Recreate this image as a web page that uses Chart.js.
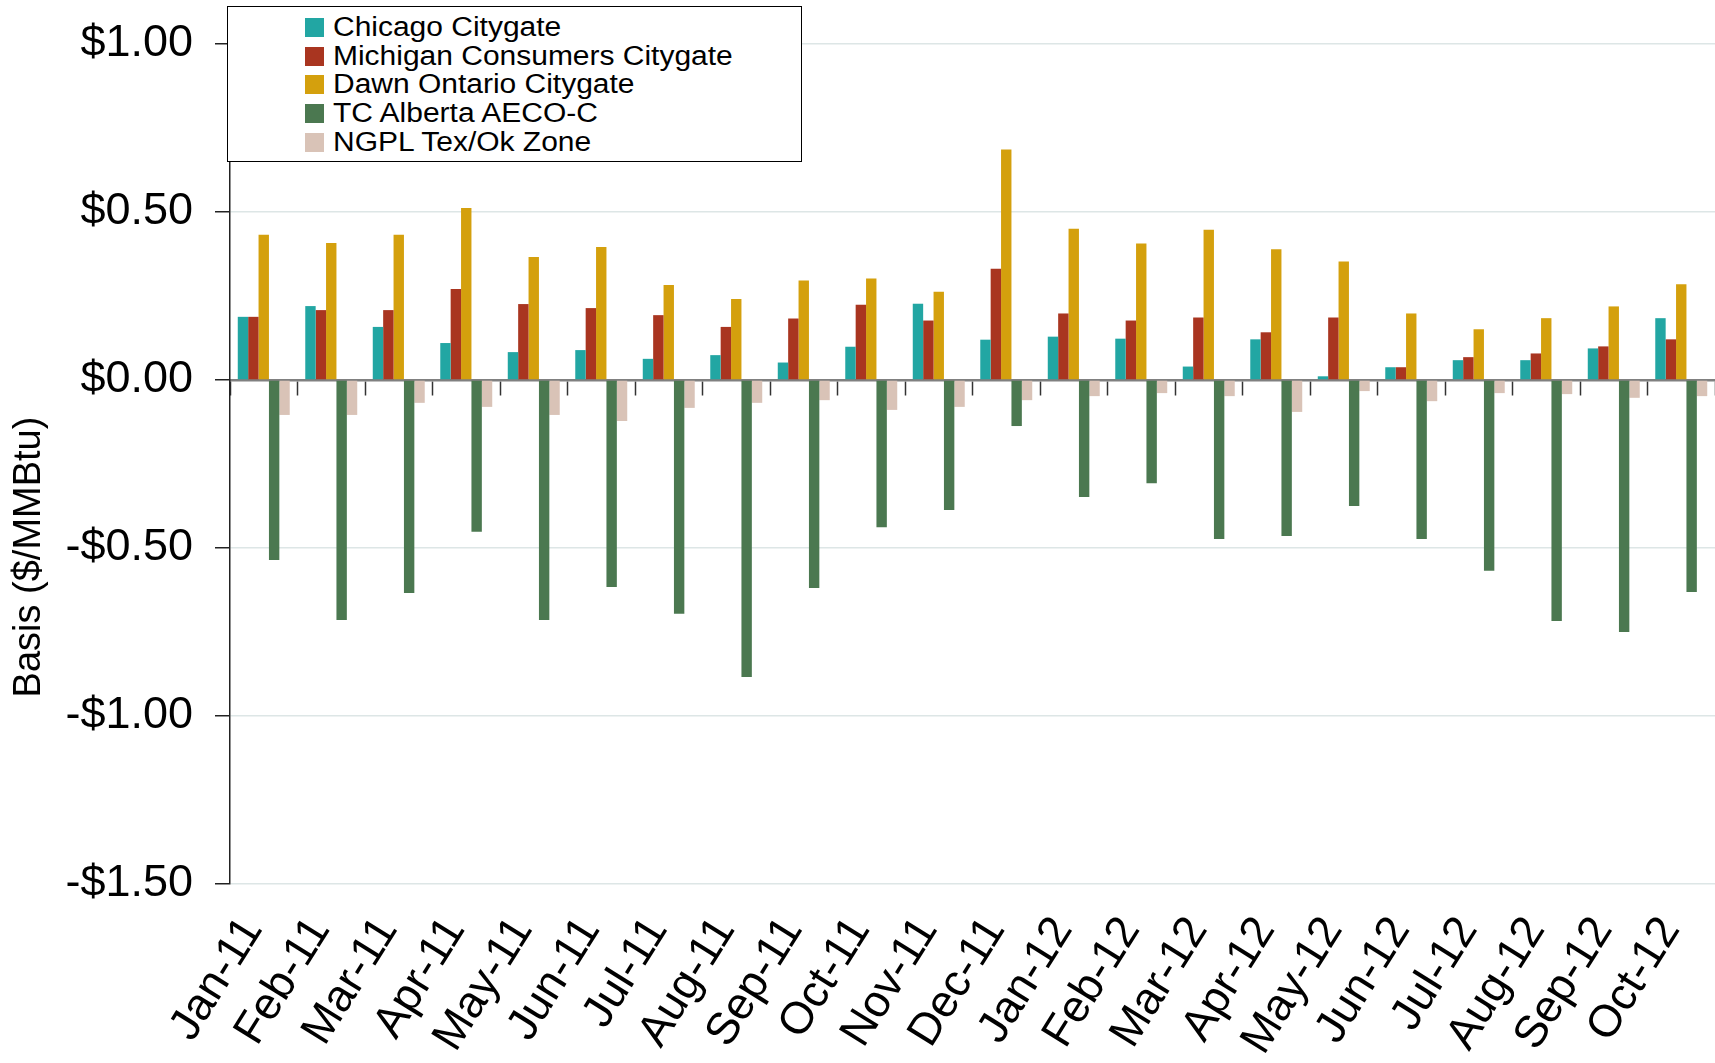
<!DOCTYPE html>
<html>
<head>
<meta charset="utf-8">
<script src="https://cdn.jsdelivr.net/npm/chart.js@4.4.1/dist/chart.umd.min.js"></script>
<style>
  body { margin: 0; background: #fff; }
  #wrap { position: relative; width: 1715px; height: 1063px; }
  #legend {
    position: absolute; left: 227px; top: 6px; width: 575px; height: 156px;
    box-sizing: border-box; border: 1px solid #000; background: #fff;
    padding-top: 6px; font-family: "Liberation Sans", Arial, sans-serif; font-size: 27px; color: #000;
  }
  .item { height: 28.8px; display: flex; align-items: center; padding-left: 77px; }
  .sw { width: 19px; height: 19px; margin-right: 9px; flex: none; }
  .txt { display: inline-block; transform: scaleX(1.11); transform-origin: left center; white-space: nowrap; line-height: 1; }
</style>
</head>
<body>
<div id="wrap">
  <canvas id="chart" width="1715" height="1063"></canvas>
  <div id="legend"></div>
</div>
<script>
// --- data ($/MMBtu) ---
const months = ["Jan-11", "Feb-11", "Mar-11", "Apr-11", "May-11", "Jun-11", "Jul-11", "Aug-11",
  "Sep-11", "Oct-11", "Nov-11", "Dec-11", "Jan-12", "Feb-12", "Mar-12", "Apr-12", "May-12",
  "Jun-12", "Jul-12", "Aug-12", "Sep-12", "Oct-12"];

const chicago = [0.188, 0.220, 0.158, 0.110, 0.083, 0.089, 0.063, 0.074, 0.052, 0.099, 0.227,
  0.120, 0.129, 0.123, 0.040, 0.121, 0.011, 0.038, 0.059, 0.059, 0.094, 0.184];
const michigan = [0.188, 0.208, 0.208, 0.271, 0.226, 0.214, 0.193, 0.158, 0.183, 0.224, 0.177,
  0.331, 0.198, 0.177, 0.186, 0.142, 0.186, 0.038, 0.068, 0.079, 0.100, 0.121];
const dawn = [0.432, 0.408, 0.432, 0.512, 0.366, 0.396, 0.283, 0.241, 0.296, 0.302, 0.263,
  0.686, 0.450, 0.406, 0.447, 0.389, 0.353, 0.198, 0.151, 0.184, 0.219, 0.285];
const aeco = [-0.536, -0.714, -0.634, -0.452, -0.714, -0.616, -0.696, -0.884, -0.619, -0.438, -0.387,
  -0.137, -0.348, -0.307, -0.473, -0.464, -0.375, -0.473, -0.568, -0.717, -0.750, -0.631];
const ngpl = [-0.104, -0.104, -0.068, -0.080, -0.104, -0.122, -0.083, -0.068, -0.060, -0.089, -0.080,
  -0.060, -0.048, -0.039, -0.048, -0.095, -0.033, -0.063, -0.039, -0.042, -0.053, -0.048];

const seriesNames = ["Chicago Citygate", "Michigan Consumers Citygate", "Dawn Ontario Citygate",
  "TC Alberta AECO-C", "NGPL Tex/Ok Zone"];
const seriesColors = ["#22a6a3", "#a93520", "#d4a00d", "#4b7850", "#d9c3b7"];
const yTicks = [-1.5, -1.0, -0.5, 0, 0.5, 1.0];
const yTitle = "Basis ($/MMBtu)";

const FONT = '"Liberation Sans", Arial, sans-serif';

// y axis title sits a bit below the middle in the original, draw it by hand
const yTitlePlugin = {
    id: "yTitle",
    afterDraw(chart) {
        const c = chart.ctx;
        c.save();
        c.translate(30, 557);
        c.rotate(-Math.PI / 2);
        c.font = "38px " + FONT;
        c.fillStyle = "#000";
        c.textAlign = "center";
        c.textBaseline = "middle";
        c.fillText(yTitle, 0, 0);
        c.restore();
    }
};

const values = [chicago, michigan, dawn, aeco, ngpl];

const chart = new Chart(document.getElementById("chart"), {
    type: "bar",
    data: {
        labels: months,
        datasets: values.map((v, i) => ({
            label: seriesNames[i],
            data: v,
            backgroundColor: seriesColors[i],
            borderWidth: 0
        }))
    },
    options: {
        responsive: false,
        animation: false,
        layout: { padding: { top: 44, right: 0, bottom: 0, left: 0 } },
        plugins: { legend: { display: false }, tooltip: { enabled: false } },
        datasets: { bar: { categoryPercentage: 0.77, barPercentage: 1.0 } },
        scales: {
            x: {
                grid: { display: false, drawTicks: true, tickLength: 22 },
                border: { display: false },
                ticks: {
                    color: "#000",
                    font: { size: 45, family: FONT },
                    minRotation: 58,
                    maxRotation: 58,
                    autoSkip: false,
                    padding: 2,
                    labelOffset: -11
                },
                afterFit: s => { s.height = 179; s.paddingLeft = 0; s.paddingRight = 0; }
            },
            // axis line at zero with the small tick marks between months
            x2: {
                type: "category",
                axis: "x",
                position: { y: 0 },
                offset: true,
                z: 1,
                grid: {
                    display: true, offset: true, drawOnChartArea: false, drawTicks: true,
                    tickLength: 14, tickColor: "#333", tickWidth: 1.5
                },
                border: { display: true, color: "#808080", width: 2.5 },
                ticks: { display: false }
            },
            y: {
                min: -1.5,
                max: 1.0,
                afterBuildTicks: s => { s.ticks = yTicks.map(v => ({ value: v })); },
                ticks: {
                    color: "#000",
                    font: { size: 45, family: FONT },
                    padding: 22,
                    callback: v => (v < 0 ? "-" : "") + "$" + Math.abs(v).toFixed(2)
                },
                grid: { color: "#dde6e6", lineWidth: 1.5, tickLength: 15, tickColor: "#222", tickWidth: 1.5 },
                border: { color: "#222", width: 1.5 },
                afterFit: s => { s.width = 230; s.paddingTop = 0; s.paddingBottom = 0; }
            }
        }
    },
    plugins: [yTitlePlugin]
});

// --- legend box ---
const legend = document.getElementById("legend");
chart.data.datasets.forEach(ds => {
    const row = document.createElement("div");
    row.className = "item";
    row.innerHTML = `<span class="sw" style="background:${ds.backgroundColor}"></span><span class="txt">${ds.label}</span>`;
    legend.appendChild(row);
});
</script>
</body>
</html>
